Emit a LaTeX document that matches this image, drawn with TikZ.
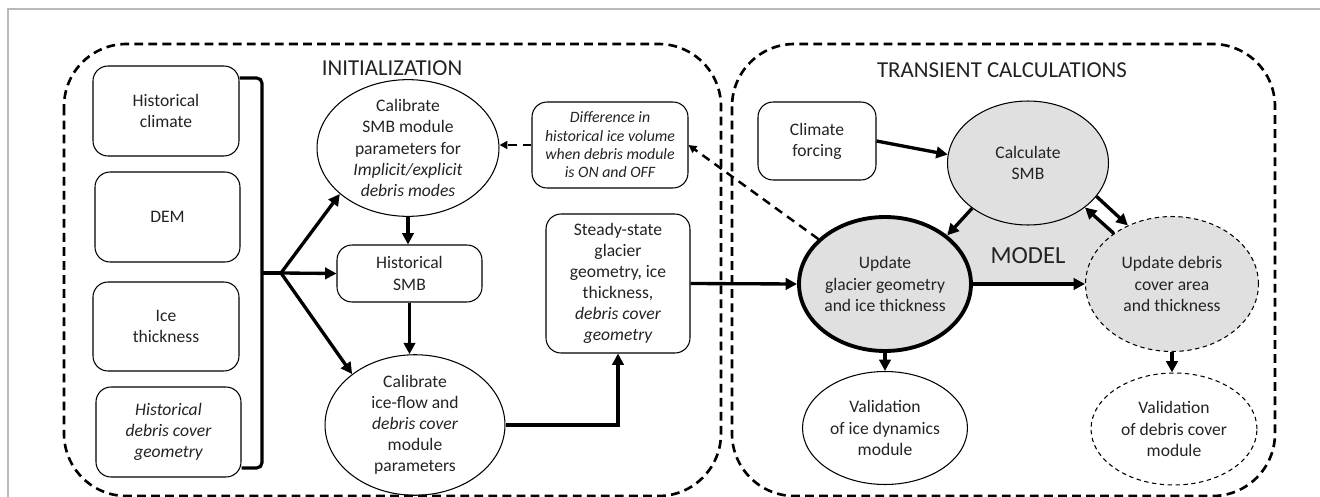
\documentclass[tikz,border=0pt]{standalone}
\usepackage{fontspec}
\setmainfont{Carlito}
\usetikzlibrary{shapes.geometric,arrows.meta,backgrounds}
\definecolor{modelgray}{RGB}{224,224,224}
\definecolor{framegray}{RGB}{185,185,185}
\definecolor{txtc}{RGB}{35,35,35}
\begin{document}
\begin{tikzpicture}[x=0.02cm,y=-0.02cm,
  txt/.style={font=\fontsize{10}{12}\selectfont, align=center, text=txtc},
  rbox/.style={txt, draw, line width=0.6pt, rounded corners=0.3cm, inner sep=0pt},
  ell/.style={txt, draw, ellipse, line width=0.6pt, inner sep=0pt},
  gfill/.style={fill=modelgray},
  dell/.style={dash pattern=on 2.5pt off 2pt},
  grp/.style={draw, line width=1.5pt, dash pattern=on 5pt off 3pt, rounded corners=1.25cm},
  arr/.style={line width=1.9pt, -{Triangle[length=6.5pt,width=6.5pt]}},
  darr/.style={line width=1.4pt, dash pattern=on 5pt off 3.5pt, -{Triangle[length=4.5pt,width=4.5pt]}},
  brk/.style={line width=1.8pt, rounded corners=3pt},
  ttl/.style={font=\fontsize{13}{15}\selectfont, text=txtc}
]
\useasboundingbox (0,0) rectangle (1320,497);
\draw[framegray, line width=0.6pt] (8,497) -- (8,9) -- (1320,9);
\draw[grp] (64,44) rectangle (721,496);
\draw[grp] (732,44) rectangle (1275,496);

\node[ttl] (tinit) at (392,68) {INITIALIZATION};
\node[ttl] (ttrans) at (1002,70) {TRANSIENT CALCULATIONS};

% input boxes
\node[rbox, minimum width=2.92cm, minimum height=1.8cm] (hc) at (166,111) {Historical\\climate};
\node[rbox, minimum width=2.9cm, minimum height=1.8cm] (dem) at (167.5,217) {DEM};
\node[rbox, minimum width=2.92cm, minimum height=1.78cm] (ice) at (166,326.5) {Ice\\thickness};
\node[rbox, minimum width=2.9cm, minimum height=1.8cm] (hdc) at (168.5,432) {\itshape Historical\\\itshape debris cover\\\itshape geometry};

% initialization nodes
\node[ell, minimum width=3.64cm, minimum height=2.2cm] (csmb) at (408,148)
  {Calibrate\\SMB module\\parameters for\\\itshape Implicit/explicit\\\itshape debris modes};
\node[rbox, minimum width=2.9cm, minimum height=1.14cm] (hsmb) at (409.5,273.5) {Historical\\SMB};
\node[ell, minimum width=3.6cm, minimum height=2.6cm] (cif) at (415,425)
  {Calibrate\\ice-flow and\\\itshape debris cover\\module\\parameters};
\node[rbox, minimum width=3.12cm, minimum height=1.72cm, font=\fontsize{9}{10.4}\selectfont\itshape] (diff) at (610,145)
  {Difference in\\historical ice volume\\when debris module\\is ON and OFF};
\node[rbox, minimum width=2.88cm, minimum height=2.78cm] (ss) at (618,283.5)
  {Steady-state\\glacier\\geometry, ice\\thickness,\\\itshape debris cover\\\itshape geometry};

% transient nodes
\node[rbox, minimum width=2.36cm, minimum height=1.56cm] (cf) at (817,141) {Climate\\forcing};
\node[ell, gfill, minimum width=3.22cm, minimum height=2.48cm] (cs) at (1028,163) {Calculate\\SMB};
\node[ell, gfill, line width=2.2pt, minimum width=3.44cm, minimum height=2.68cm] (ug) at (885,284)
  {Update\\glacier geometry\\and ice thickness};
\node[ell, gfill, dell, minimum width=3.46cm, minimum height=2.7cm] (ud) at (1172,284)
  {Update debris\\cover area\\and thickness};
\node[ell, minimum width=3.3cm, minimum height=2.26cm] (vi) at (885,428)
  {Validation\\of ice dynamics\\module};
\node[ell, dell, minimum width=3.32cm, minimum height=2.24cm] (vd) at (1174,429)
  {Validation\\of debris cover\\module};

\begin{scope}[on background layer]
\fill[modelgray] (ug.center) -- (cs.center) -- (ud.center) -- cycle;
\end{scope}
\node[font=\fontsize{14}{16}\selectfont, text=txtc] (model) at (1028,256) {MODEL};

% bracket and fork
\coordinate (btop) at (262,78);
\coordinate (bbot) at (262,468);
\coordinate (bmid) at (262,273);
\coordinate (fork) at (281,273);
\draw[brk] (hc.east |- btop) -- (btop) -- (bbot) -- (hdc.east |- bbot);
\draw[line width=1.8pt] (bmid) -- (fork);
\draw[arr] (fork) -- (csmb.214);
\draw[arr] (fork) -- (hsmb.west);
\draw[arr] (fork) -- (cif.141);

% initialization flow
\draw[arr] (csmb.south) -- (hsmb.north -| csmb.south);
\draw[arr] (hsmb.south) -- (cif.north -| hsmb.south);
\draw[arr] (cif.east) -| (ss.south);
\draw[darr] (diff.west) -- (csmb.east |- diff.west);
\draw[arr] (ss.east) -- (ug.west);
\draw[darr] (ug.146) -- (diff.east);

% transient flow
\draw[arr] (cf.east) -- (cs.174);
\draw[arr] (cs.219) -- (ug.38);
\draw[arr] (cs.334) -- (ud.127);
\draw[arr] (ud.139) -- (cs.322);
\draw[arr] (ug.east) -- (ud.west);
\draw[arr] (ug.south) -- (ug.south |- vi.north);
\draw[arr] (ud.south) -- (ud.south |- vd.north);
\end{tikzpicture}
\end{document}
